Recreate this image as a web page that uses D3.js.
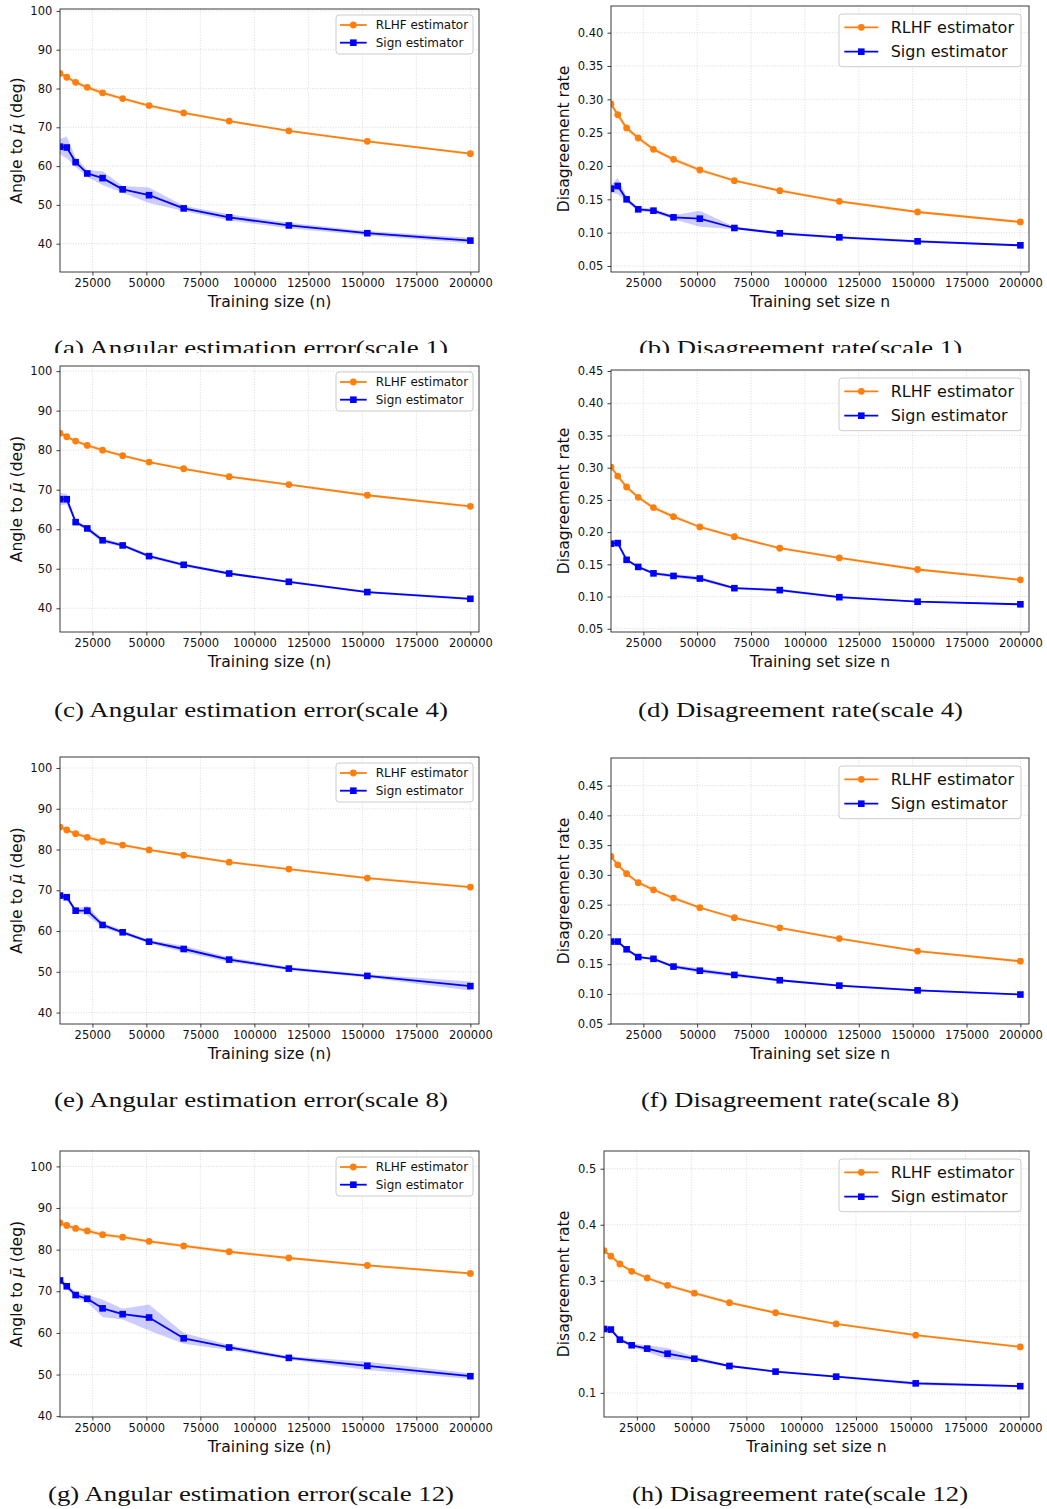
<!DOCTYPE html>
<html>
<head>
<meta charset="utf-8">
<script src="https://cdn.jsdelivr.net/npm/d3@7"></script>
<style>
  body { margin: 0; background: #fff; }
  svg { display: block; }
</style>
</head>
<body>
<svg id="chart" width="1047" height="1509"></svg>
<script>
/* shared x values (training set sizes) and tick labels */
const trainSizes = [10000, 13130, 17240, 22630, 29710, 39010, 51230, 67260, 88320, 115970, 152290, 200000];
const xTickValues = [25000, 50000, 75000, 100000, 125000, 150000, 175000, 200000];
const angleTicks = [40, 50, 60, 70, 80, 90, 100];
const rateTicks40 = [0.05, 0.10, 0.15, 0.20, 0.25, 0.30, 0.35, 0.40];
const rateTicks45 = [0.05, 0.10, 0.15, 0.20, 0.25, 0.30, 0.35, 0.40, 0.45];
const rateTicks50 = [0.1, 0.2, 0.3, 0.4, 0.5];
const seriesNames = ['RLHF estimator', 'Sign estimator'];

/* scale 1 */
const rlhfAngle1 = [83.9, 82.9, 81.6, 80.3, 78.9, 77.4, 75.6, 73.7, 71.6, 69.1, 66.4, 63.2];
const rlhfAngle1Sd = [0.5, 0.5, 0.5, 0.5, 0.5, 0.4, 0.4, 0.4, 0.3, 0.3, 0.3, 0.3];
const signAngle1 = [65.0, 64.8, 61.0, 58.1, 56.9, 54.0, 52.5, 49.1, 46.8, 44.7, 42.7, 40.8];
const signAngle1Sd = [2.0, 2.8, 1.2, 0.9, 1.8, 0.9, 2.0, 0.7, 0.8, 0.7, 0.6, 0.7];
const rlhfRate1 = [0.293, 0.277, 0.257, 0.242, 0.225, 0.210, 0.194, 0.178, 0.163, 0.147, 0.131, 0.116];
const rlhfRate1Sd = [0.004, 0.005, 0.004, 0.003, 0.003, 0.003, 0.003, 0.002, 0.002, 0.002, 0.002, 0.002];
const signRate1 = [0.166, 0.170, 0.150, 0.135, 0.133, 0.123, 0.121, 0.107, 0.099, 0.093, 0.087, 0.081];
const signRate1Sd = [0.006, 0.012, 0.004, 0.003, 0.003, 0.003, 0.012, 0.002, 0.002, 0.002, 0.002, 0.001];

/* scale 4 */
const rlhfAngle4 = [84.3, 83.4, 82.3, 81.2, 80.0, 78.6, 77.0, 75.3, 73.3, 71.3, 68.6, 65.8];
const rlhfAngle4Sd = [0.4, 0.4, 0.4, 0.4, 0.4, 0.4, 0.3, 0.3, 0.3, 0.3, 0.3, 0.3];
const signAngle4 = [67.6, 67.6, 61.8, 60.2, 57.2, 55.9, 53.2, 51.0, 48.8, 46.7, 44.1, 42.4];
const signAngle4Sd = [1.5, 1.3, 0.5, 0.5, 0.6, 0.4, 0.4, 0.4, 0.3, 0.3, 0.3, 0.3];
const rlhfRate4 = [0.301, 0.287, 0.270, 0.254, 0.238, 0.224, 0.208, 0.193, 0.175, 0.160, 0.142, 0.126];
const rlhfRate4Sd = [0.003, 0.003, 0.003, 0.003, 0.003, 0.003, 0.002, 0.002, 0.002, 0.002, 0.002, 0.002];
const signRate4 = [0.182, 0.183, 0.157, 0.146, 0.136, 0.132, 0.128, 0.113, 0.110, 0.099, 0.092, 0.088];
const signRate4Sd = [0.003, 0.004, 0.002, 0.002, 0.002, 0.003, 0.003, 0.002, 0.002, 0.002, 0.001, 0.001];

/* scale 8 */
const rlhfAngle8 = [85.5, 84.8, 83.9, 83.0, 82.0, 81.1, 79.9, 78.6, 76.9, 75.2, 73.0, 70.8];
const rlhfAngle8Sd = [0.4, 0.4, 0.4, 0.5, 0.4, 0.4, 0.3, 0.3, 0.3, 0.3, 0.3, 0.3];
const signAngle8 = [68.7, 68.3, 65.0, 65.0, 61.5, 59.7, 57.4, 55.6, 53.0, 50.8, 49.0, 46.5];
const signAngle8Sd = [0.6, 0.6, 0.5, 1.2, 0.6, 0.5, 0.4, 0.8, 0.6, 0.4, 0.4, 1.1];
const rlhfRate8 = [0.331, 0.317, 0.302, 0.287, 0.275, 0.261, 0.245, 0.228, 0.211, 0.193, 0.172, 0.155];
const rlhfRate8Sd = [0.003, 0.003, 0.003, 0.003, 0.003, 0.003, 0.002, 0.002, 0.002, 0.002, 0.002, 0.002];
const signRate8 = [0.188, 0.188, 0.175, 0.162, 0.159, 0.146, 0.139, 0.132, 0.123, 0.114, 0.106, 0.099];
const signRate8Sd = [0.002, 0.002, 0.002, 0.002, 0.002, 0.003, 0.004, 0.003, 0.002, 0.002, 0.002, 0.001];

/* scale 12 */
const rlhfAngle12 = [86.4, 85.8, 85.1, 84.5, 83.6, 83.0, 82.0, 80.9, 79.5, 78.0, 76.2, 74.3];
const rlhfAngle12Sd = [0.5, 0.5, 0.5, 0.5, 0.5, 0.4, 0.4, 0.4, 0.4, 0.3, 0.3, 0.3];
const signAngle12 = [72.6, 71.2, 69.1, 68.2, 65.9, 64.5, 63.7, 58.7, 56.5, 54.0, 52.1, 49.6];
const signAngle12Sd = [0.6, 0.6, 0.7, 0.9, 2.1, 1.3, 3.1, 1.3, 0.6, 0.4, 1.0, 0.7];
const rlhfRate12 = [0.354, 0.344, 0.330, 0.317, 0.305, 0.292, 0.278, 0.261, 0.243, 0.223, 0.203, 0.182];
const rlhfRate12Sd = [0.003, 0.003, 0.003, 0.003, 0.003, 0.003, 0.003, 0.003, 0.002, 0.002, 0.002, 0.002];
const signRate12 = [0.214, 0.213, 0.195, 0.185, 0.179, 0.170, 0.161, 0.148, 0.138, 0.129, 0.117, 0.112];
const signRate12Sd = [0.003, 0.003, 0.003, 0.003, 0.006, 0.010, 0.004, 0.002, 0.002, 0.002, 0.003, 0.002];

const captions = [
  '(a) Angular estimation error(scale 1)', '(b) Disagreement rate(scale 1)',
  '(c) Angular estimation error(scale 4)', '(d) Disagreement rate(scale 4)',
  '(e) Angular estimation error(scale 8)', '(f) Disagreement rate(scale 8)',
  '(g) Angular estimation error(scale 12)', '(h) Disagreement rate(scale 12)',
];

const palette = { rlhf: '#ff7f0e', sign: '#0000ff', grid: '#b0b0b0', spine: '#262626', text: '#111' };
const xDomain = [10000, 204000];
const font = '"DejaVu Sans", sans-serif';

/* panel layout: pixel boxes, y ranges, which arrays to draw */
const panels = [
  { id: 'a', kind: 'angle', left: 60, top: 9, right: 479, bottom: 272, yDomain: [32.7, 100.5], ticks: angleTicks, fmt: 'd',
    rlhf: [rlhfAngle1, rlhfAngle1Sd], sign: [signAngle1, signAngle1Sd], cap: { x: 54, w: 394, y: 355 } },
  { id: 'b', kind: 'rate', left: 611, top: 6, right: 1029, bottom: 272, yDomain: [0.041, 0.44], ticks: rateTicks40, fmt: '.2f',
    rlhf: [rlhfRate1, rlhfRate1Sd], sign: [signRate1, signRate1Sd], cap: { x: 639, w: 323, y: 355 } },
  { id: 'c', kind: 'angle', left: 60, top: 366, right: 479, bottom: 632, yDomain: [34.0, 101.3], ticks: angleTicks, fmt: 'd',
    rlhf: [rlhfAngle4, rlhfAngle4Sd], sign: [signAngle4, signAngle4Sd], cap: { x: 54, w: 394, y: 717 } },
  { id: 'd', kind: 'rate', left: 611, top: 370, right: 1029, bottom: 632, yDomain: [0.045, 0.4516], ticks: rateTicks45, fmt: '.2f',
    rlhf: [rlhfRate4, rlhfRate4Sd], sign: [signRate4, signRate4Sd], cap: { x: 638, w: 325, y: 717 } },
  { id: 'e', kind: 'angle', left: 60, top: 757, right: 479, bottom: 1024, yDomain: [37.2, 102.7], ticks: angleTicks, fmt: 'd',
    rlhf: [rlhfAngle8, rlhfAngle8Sd], sign: [signAngle8, signAngle8Sd], cap: { x: 54, w: 394, y: 1107 } },
  { id: 'f', kind: 'rate', left: 611, top: 758, right: 1029, bottom: 1024, yDomain: [0.0495, 0.4964], ticks: rateTicks45, fmt: '.2f',
    rlhf: [rlhfRate8, rlhfRate8Sd], sign: [signRate8, signRate8Sd], cap: { x: 641, w: 318, y: 1107 } },
  { id: 'g', kind: 'angle', left: 60, top: 1151, right: 479, bottom: 1417, yDomain: [39.8, 103.7], ticks: angleTicks, fmt: 'd',
    rlhf: [rlhfAngle12, rlhfAngle12Sd], sign: [signAngle12, signAngle12Sd], cap: { x: 48, w: 406, y: 1501 } },
  { id: 'h', kind: 'rate', left: 604, top: 1151, right: 1029, bottom: 1417, yDomain: [0.057, 0.5316], ticks: rateTicks50, fmt: '.1f',
    rlhf: [rlhfRate12, rlhfRate12Sd], sign: [signRate12, signRate12Sd], cap: { x: 632, w: 336, y: 1501 } },
];

const svg = d3.select('#chart');
const defs = svg.append('defs');
defs.append('clipPath').attr('id', 'clip-row1').append('rect')
  .attr('x', 0).attr('y', 0).attr('width', 1047).attr('height', 353);

/**
 * Draws a circle or square marker at (cx, cy)
 */
const marker = (sel, kind, cx, cy) => {
  if (kind === 'rlhf') {
    sel.append('circle').attr('cx', cx).attr('cy', cy).attr('r', 3.4).attr('fill', palette.rlhf);
  } else {
    sel.append('rect').attr('x', cx - 3.3).attr('y', cy - 3.3).attr('width', 6.6).attr('height', 6.6)
      .attr('fill', palette.sign);
  }
};

const drawPanel = (p, idx) => {
  const w = p.right - p.left;
  const h = p.bottom - p.top;
  const g = svg.append('g').attr('transform', `translate(${p.left},${p.top})`);
  const x = d3.scaleLinear().domain(xDomain).range([0, w]);
  const y = d3.scaleLinear().domain(p.yDomain).range([h, 0]);

  // grid
  const grid = g.append('g').attr('stroke', palette.grid).attr('stroke-width', 0.8)
    .attr('stroke-dasharray', '1,1.6').attr('opacity', 0.55);
  grid.selectAll('.gx').data(xTickValues).join('line')
    .attr('x1', d => x(d)).attr('x2', d => x(d)).attr('y1', 0).attr('y2', h);
  grid.selectAll('.gy').data(p.ticks).join('line')
    .attr('x1', 0).attr('x2', w).attr('y1', d => y(d)).attr('y2', d => y(d));

  // plot area clipped to the axes
  defs.append('clipPath').attr('id', `clip-${p.id}`).append('rect')
    .attr('x', 0).attr('y', 0).attr('width', w).attr('height', h);
  const plot = g.append('g').attr('clip-path', `url(#clip-${p.id})`);

  ['rlhf', 'sign'].forEach((key) => {
    const [vals, sds] = p[key];
    const rows = trainSizes.map((n, i) => ({ n, v: vals[i], sd: sds[i] }));
    const area = d3.area().x(d => x(d.n)).y0(d => y(d.v - d.sd)).y1(d => y(d.v + d.sd));
    const line = d3.line().x(d => x(d.n)).y(d => y(d.v));
    plot.append('path').datum(rows).attr('d', area)
      .attr('fill', palette[key]).attr('fill-opacity', 0.2).attr('stroke', 'none');
    plot.append('path').datum(rows).attr('d', line)
      .attr('fill', 'none').attr('stroke', palette[key]).attr('stroke-width', 1.8)
      .attr('stroke-linejoin', 'round');
    const mk = plot.append('g');
    rows.forEach(d => marker(mk, key, x(d.n), y(d.v)));
  });

  // axes
  const xAxis = g.append('g').attr('transform', `translate(0,${h})`)
    .call(d3.axisBottom(x).tickValues(xTickValues).tickSize(3.5).tickPadding(3.5).tickFormat(d3.format('d')));
  const yAxis = g.append('g')
    .call(d3.axisLeft(y).tickValues(p.ticks).tickSize(3.5).tickPadding(4.2).tickFormat(d3.format(p.fmt)));
  [xAxis, yAxis].forEach((a) => {
    a.select('.domain').remove();
    a.selectAll('line').attr('stroke', palette.spine).attr('stroke-width', 0.9);
    a.selectAll('text').attr('font-family', font).attr('font-size', 11.5).attr('fill', palette.text);
  });

  g.append('rect').attr('width', w).attr('height', h)
    .attr('fill', 'none').attr('stroke', palette.spine).attr('stroke-width', 0.9);

  // axis labels
  g.append('text').attr('x', w / 2).attr('y', h + 35).attr('text-anchor', 'middle')
    .attr('font-family', font).attr('font-size', 15.6).attr('fill', palette.text)
    .text(p.kind === 'angle' ? 'Training size (n)' : 'Training set size n');
  const yl = g.append('text')
    .attr('transform', `translate(${p.kind === 'angle' ? 22 - p.left : 569 - p.left},${h / 2}) rotate(-90)`)
    .attr('text-anchor', 'middle').attr('font-family', font).attr('font-size', 15.6).attr('fill', palette.text);
  if (p.kind === 'angle') {
    yl.append('tspan').text('Angle to ');
    yl.append('tspan').attr('font-style', 'italic').text('\u03bc\u0304');
    yl.append('tspan').text(' (deg)');
  } else {
    yl.text('Disagreement rate');
  }

  // legend
  const small = p.kind === 'angle';
  const lg = {
    fs: small ? 12 : 16, w: small ? 137 : 182, h: small ? 39 : 52.7, pad: small ? 6 : 8,
    x0: small ? 4 : 5.3, x1: small ? 30.7 : 39.3, tx: small ? 39.7 : 51.7,
    rows: small ? [10, 27.7] : [13.3, 37.7],
  };
  const leg = g.append('g').attr('transform', `translate(${w - lg.pad - lg.w},${lg.pad})`);
  leg.append('rect').attr('width', lg.w).attr('height', lg.h).attr('rx', 3)
    .attr('fill', '#fff').attr('fill-opacity', 0.8).attr('stroke', '#cccccc').attr('stroke-width', 1);
  ['rlhf', 'sign'].forEach((key, i) => {
    const cy = lg.rows[i];
    leg.append('line').attr('x1', lg.x0).attr('x2', lg.x1).attr('y1', cy).attr('y2', cy)
      .attr('stroke', palette[key]).attr('stroke-width', 1.8);
    marker(leg, key, (lg.x0 + lg.x1) / 2, cy);
    leg.append('text').attr('x', lg.tx).attr('y', cy).attr('dy', '0.36em')
      .attr('font-family', font).attr('font-size', lg.fs).attr('fill', palette.text)
      .text(seriesNames[i]);
  });

  // sub-figure caption
  const capHolder = idx < 2 ? svg.append('g').attr('clip-path', 'url(#clip-row1)') : svg;
  capHolder.append('text').attr('x', p.cap.x).attr('y', p.cap.y)
    .attr('font-family', '"Liberation Serif", "Times New Roman", serif').attr('font-size', 21)
    .attr('fill', palette.text)
    .attr('textLength', p.cap.w).attr('lengthAdjust', 'spacingAndGlyphs')
    .text(captions[idx]);
};

panels.forEach(drawPanel);
</script>
</body>
</html>
